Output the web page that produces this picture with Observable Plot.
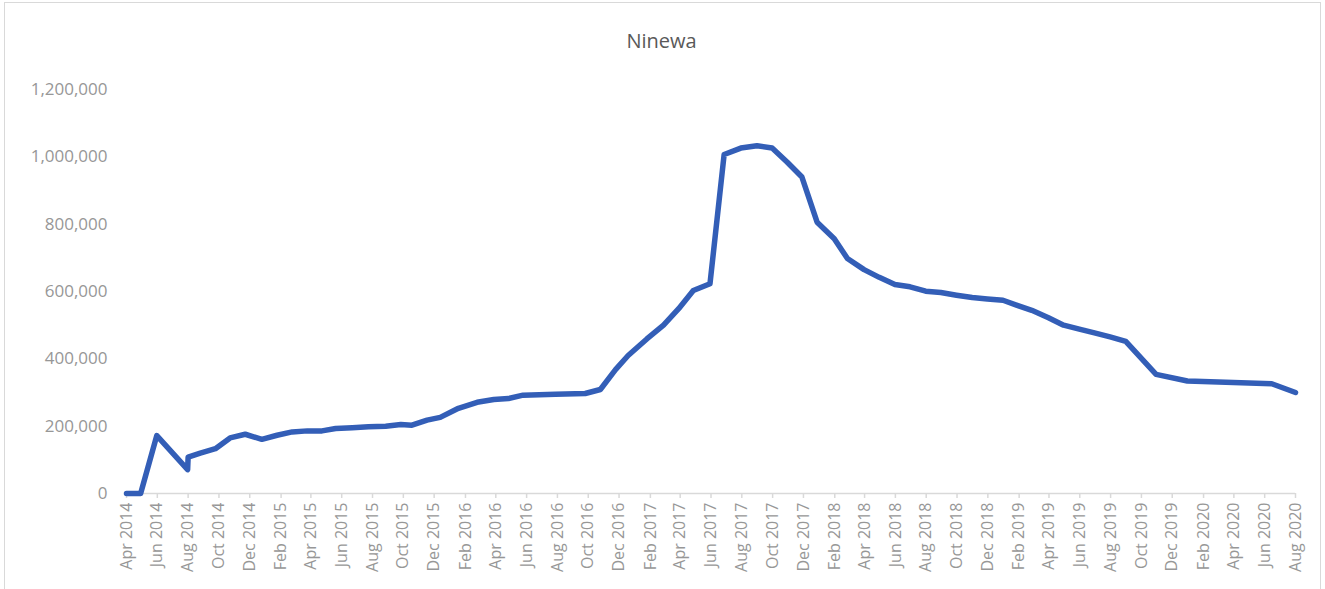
<!DOCTYPE html>
<html>
<head>
<meta charset="utf-8">
<script src="https://cdn.jsdelivr.net/npm/d3@7"></script>
<script src="https://cdn.jsdelivr.net/npm/@observablehq/plot@0.6"></script>
<style>
  html, body { margin: 0; padding: 0; background: #fff; }
  #chart { position: relative; width: 1325px; height: 589px; overflow: hidden; font-family: "Open Sans", sans-serif; }
  #frame { position: absolute; left: 4px; top: 2px; width: 1317px; height: 600px; border: 1px solid #d9d9d9; box-sizing: border-box; }
  #title { position: absolute; left: 0; top: 28px; width: 1323px; text-align: center; font-size: 20px; line-height: 26px; color: #595959; }
  #plot { position: absolute; left: 0; top: 0; }
</style>
</head>
<body>
<div id="chart">
  <div id="frame"></div>
  <div id="title">Ninewa</div>
  <div id="plot"></div>
</div>
<script>
// Displaced population recorded in Ninewa, by assessment date
const roundDates = [
  "2014-04-01", "2014-04-29", "2014-05-31", "2014-07-31", "2014-08-01",
  "2014-08-25", "2014-09-24", "2014-10-23", "2014-11-22", "2014-12-25",
  "2015-01-24", "2015-02-23", "2015-03-25", "2015-04-23", "2015-05-20",
  "2015-06-22", "2015-07-24", "2015-08-27", "2015-09-26", "2015-10-18",
  "2015-11-17", "2015-12-13", "2016-01-18", "2016-02-24", "2016-03-28",
  "2016-04-26", "2016-05-25", "2016-07-28", "2016-09-25", "2016-10-25",
  "2016-11-24", "2016-12-19", "2017-01-25", "2017-02-27", "2017-03-29",
  "2017-04-27", "2017-05-30", "2017-06-27", "2017-07-30", "2017-08-31",
  "2017-09-30", "2017-10-30", "2017-11-28", "2017-12-28", "2018-01-31",
  "2018-02-26", "2018-03-31", "2018-04-30", "2018-05-31", "2018-06-30",
  "2018-07-31", "2018-08-30", "2018-09-30", "2018-10-31", "2018-11-30",
  "2018-12-31", "2019-01-28", "2019-02-26", "2019-03-31", "2019-04-30",
  "2019-05-31", "2019-06-30", "2019-07-31", "2019-08-31", "2019-10-30",
  "2019-12-31", "2020-06-15", "2020-08-01"
];

const displaced = [
  0, 0, 172000, 71000, 108000,
  120000, 133000, 165000, 176000, 161000,
  173000, 183000, 186000, 186000, 193000,
  195000, 198000, 200000, 205000, 203000,
  218000, 226000, 253000, 271000, 279000,
  282000, 292000, 295000, 297000, 309000,
  368000, 410000, 459000, 500000, 549000,
  603000, 623000, 1007000, 1026000, 1033000,
  1026000, 984000, 940000, 806000, 757000,
  698000, 665000, 642000, 621000, 614000,
  601000, 597000, 589000, 582000, 578000,
  574000, 559000, 544000, 522000, 500000,
  488000, 477000, 465000, 452000, 354000,
  334000, 326000, 300000
];

const yTicks = [0, 200000, 400000, 600000, 800000, 1000000, 1200000];
const axisStart = "2014-04-01";
const axisEnd = "2020-08-01";

const rows = roundDates.map((d, i) => ({ date: new Date(d + "T00:00:00Z"), value: displaced[i] }));
const xDomain = [new Date(axisStart + "T00:00:00Z"), new Date(axisEnd + "T00:00:00Z")];
// every second month, starting from the first month of the axis
const xTicks = d3.utcMonth.range(xDomain[0], d3.utcDay.offset(xDomain[1], 1), 2);

const chart = Plot.plot({
  width: 1325,
  height: 589,
  marginLeft: 126,
  marginRight: 30,
  marginTop: 89,
  marginBottom: 96,
  style: { fontFamily: "'Open Sans', sans-serif", background: "transparent", overflow: "visible" },
  x: { type: "utc", domain: xDomain },
  y: { domain: [0, 1200000] },
  marks: [
    Plot.ruleY([0], { stroke: "#d9d9d9", strokeWidth: 1.5 }),
    Plot.axisX({
      ticks: xTicks,
      tickFormat: d3.utcFormat("%b %Y"),
      tickRotate: -90,
      tickSize: 5,
      tickPadding: 4,
      stroke: "#d9d9d9",
      strokeWidth: 1.5,
      fill: "#979797",
      fontSize: 16,
      label: null
    }),
    Plot.axisY({
      ticks: yTicks,
      tickFormat: d3.format(","),
      tickSize: 0,
      tickPadding: 19,
      fill: "#979797",
      fontSize: 17,
      label: null
    }),
    Plot.line(rows, {
      x: "date",
      y: "value",
      stroke: "#335eb7",
      strokeWidth: 5.5,
      strokeLinejoin: "round",
      strokeLinecap: "round"
    })
  ]
});

document.getElementById("plot").appendChild(chart);
</script>
</body>
</html>
